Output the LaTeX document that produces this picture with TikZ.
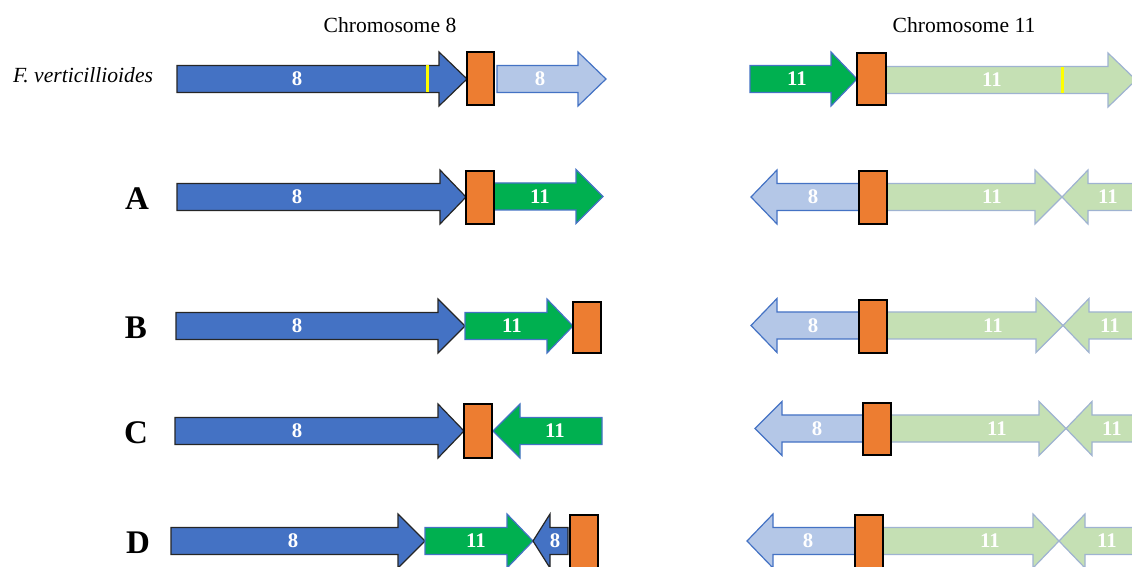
\documentclass[tikz,border=0pt]{standalone}
\usepackage{fontspec}
\setmainfont{Liberation Serif}
\definecolor{cblue}{HTML}{4472C4}
\definecolor{clblue}{HTML}{B4C7E7}
\definecolor{cgreen}{HTML}{00B050}
\definecolor{clgreen}{HTML}{C5E0B4}
\definecolor{corange}{HTML}{ED7D31}
\definecolor{cyel}{HTML}{FFFF00}
\definecolor{cgrayblue}{HTML}{9FB3D1}
\definecolor{cdarkblue}{HTML}{2F5597}
% right-pointing arrow: style, left, head start, tip, y centre
\newcommand{\RArr}[5]{\draw[#1] ({#2},{#5-13.5}) -- ({#3},{#5-13.5}) -- ({#3},{#5-27}) -- ({#4},{#5}) -- ({#3},{#5+27}) -- ({#3},{#5+13.5}) -- ({#2},{#5+13.5}) -- cycle;}
% left-pointing arrow: style, tip, head base, right end, y centre
\newcommand{\LArr}[5]{\draw[#1] ({#4},{#5-13.5}) -- ({#3},{#5-13.5}) -- ({#3},{#5-27}) -- ({#2},{#5}) -- ({#3},{#5+27}) -- ({#3},{#5+13.5}) -- ({#4},{#5+13.5}) -- cycle;}
\begin{document}
\begin{tikzpicture}[x=0.5pt,y=-0.5pt,
  btype/.style={fill=cblue,draw=black!85,line width=0.6pt,line join=miter},
  lbtype/.style={fill=clblue,draw=cblue,line width=0.6pt},
  gtype/.style={fill=cgreen,draw=cblue,line width=0.6pt},
  lgtype/.style={fill=clgreen,draw=cgrayblue,line width=0.6pt},
  centro/.style={fill=corange,draw=black,line width=0.7pt},
  yline/.style={draw=cyel,line width=1.5pt},
  lab/.style={text=white,font=\fontsize{10.4}{12}\selectfont\bfseries,inner sep=0pt},
  rowlab/.style={font=\fontsize{16.5}{18}\selectfont\bfseries,inner sep=0pt},
  title/.style={font=\fontsize{10.8}{13}\selectfont,inner sep=0pt}]
\clip (0,0) rectangle (1132,567);
\fill[white] (0,0) rectangle (1132,567);

% titles
\node[title] (t8) at (390,25) {Chromosome 8};
\node[title] (t11) at (964,25) {Chromosome 11};
\node[title,font=\fontsize{10.8}{13}\selectfont\itshape] (fv) at (83,75) {F. verticillioides};
\node[rowlab] (rA) at (137,198.5) {A};
\node[rowlab] (rB) at (136,328) {B};
\node[rowlab] (rC) at (136,433) {C};
\node[rowlab] (rD) at (138,543) {D};

% ---- F. verticillioides, chromosome 8
\RArr{btype}{177}{439}{467}{79}
\draw[yline] (427,65.5) -- (427,92.5);
\RArr{lbtype}{497}{578}{606}{79}
\draw[centro] (467,52) rectangle (494,105);
\node[lab] (fv8a) at (297,79) {8};
\node[lab] (fv8b) at (540,79) {8};

% ---- F. verticillioides, chromosome 11
\RArr{gtype}{750}{831}{857}{79}
\RArr{lgtype}{886}{1108}{1136}{80}
\draw[yline] (1062,67) -- (1062,93);
\draw[centro] (857,53) rectangle (886,105);
\node[lab] (fv11a) at (797,79) {11};
\node[lab] (fv11b) at (992,80) {11};

% ---- A
\RArr{btype}{177}{440}{466}{197}
\RArr{gtype}{494}{576}{603}{196.5}
\draw[centro] (466,171) rectangle (494,224);
\node[lab] (a8) at (297,197) {8};
\node[lab] (a11) at (540,196.5) {11};

\LArr{lbtype}{751}{777}{859}{197}
\RArr{lgtype}{887}{1035}{1062}{197}
\LArr{lgtype}{1062}{1088}{1145}{197}
\draw[centro] (859,171) rectangle (887,224);
\node[lab] (a8r) at (813,197) {8};
\node[lab] (a11r) at (992,197) {11};
\node[lab] (a11s) at (1108,197) {11};

% ---- B
\RArr{btype}{176}{438}{465}{326}
\RArr{gtype}{465}{547}{573}{326}
\draw[centro] (573,302) rectangle (601,353);
\node[lab] (b8) at (297,326) {8};
\node[lab] (b11) at (512,326) {11};

\LArr{lbtype}{751}{777}{859}{325.5}
\RArr{lgtype}{887}{1036}{1063}{325.5}
\LArr{lgtype}{1063}{1089}{1145}{325.5}
\draw[centro] (859,300) rectangle (887,353);
\node[lab] (b8r) at (813,326) {8};
\node[lab] (b11r) at (993,326) {11};
\node[lab] (b11s) at (1110,326) {11};

% ---- C
\RArr{btype}{175}{438}{464}{431}
\LArr{gtype}{493}{520}{602}{431}
\draw[centro] (464,404) rectangle (492,458);
\node[lab] (c8) at (297,431) {8};
\node[lab] (c11) at (555,431) {11};

\LArr{lbtype}{755}{782}{863}{428.5}
\RArr{lgtype}{891}{1039}{1066}{428.5}
\LArr{lgtype}{1066}{1092}{1145}{428.5}
\draw[centro] (863,403) rectangle (891,455);
\node[lab] (c8r) at (817,428.5) {8};
\node[lab] (c11r) at (997,428.5) {11};
\node[lab] (c11s) at (1112,428.5) {11};

% ---- D
\RArr{btype}{171}{398}{425}{541}
\RArr{gtype}{425}{507}{533}{541}
\LArr{btype}{533}{550}{568}{541}
\draw[centro] (570,515) rectangle (598,575);
\node[lab] (d8) at (293,541) {8};
\node[lab] (d11) at (476,541) {11};
\node[lab] (d8b) at (555,541) {8};

\LArr{lbtype}{747}{773}{855}{541}
\RArr{lgtype}{883}{1033}{1059}{541}
\LArr{lgtype}{1059}{1085}{1145}{541}
\draw[centro] (855,515) rectangle (883,575);
\node[lab] (d8r) at (808,541) {8};
\node[lab] (d11r) at (990,541) {11};
\node[lab] (d11s) at (1107,541) {11};
\end{tikzpicture}
\end{document}
